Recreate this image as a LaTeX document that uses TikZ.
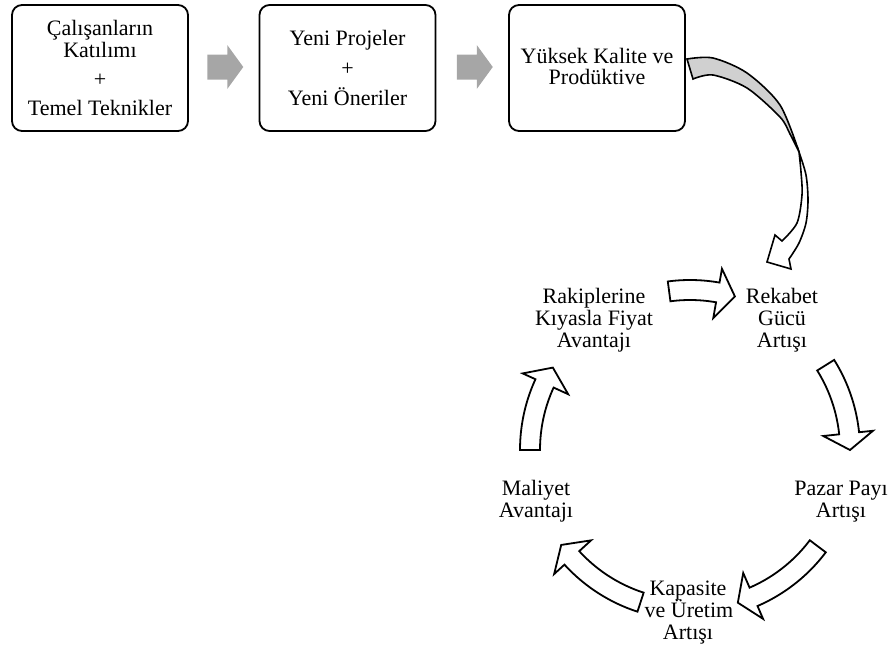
\documentclass[tikz,border=0pt]{standalone}
\usepackage{fontspec}
\setmainfont{Liberation Serif}
\usetikzlibrary{calc}
\definecolor{arrowgray}{RGB}{166,166,166}
\definecolor{bandgray}{RGB}{208,208,208}
\begin{document}
\begin{tikzpicture}[x=1pt,y=-1pt,
  box/.style={draw=black, line width=1.8pt, rounded corners=10pt,
    minimum width=176pt, minimum height=126pt, inner sep=0pt, fill=white},
  txt/.style={anchor=base, inner sep=0pt, font=\fontsize{22}{22}\selectfont},
  blockarrow/.style={draw=black, line width=1.8pt, fill=white, line join=miter},
  ribbon/.style={draw=black, line width=1.6pt, line join=miter},
  flowarrow/.style={fill=arrowgray}]
\useasboundingbox (0,0) rectangle (892,648);

% top row of boxes
\node[box] (b1) at (100,68) {};
\node[box] (b2) at (347.5,68) {};
\node[box] (b3) at (597,68) {};

\node[txt] (t11) at (100,35) {Çalışanların};
\node[txt] (t12) at (100,57) {Katılımı};
\node[txt] (t13) at (100,86) {+};
\node[txt] (t14) at (100,115) {Temel Teknikler};

\node[txt] (t21) at (347.5,45) {Yeni Projeler};
\node[txt] (t22) at (347.5,75) {+};
\node[txt] (t23) at (347.5,105) {Yeni Öneriler};

\node[txt] (t31) at (597,63) {Yüksek Kalite ve};
\node[txt] (t32) at (597,84) {Prodüktive};

% gray arrows between the boxes
\coordinate (g1) at ($(b1.east)!0.5!(b2.west)+(1.5,-1)$);
\coordinate (g2) at ($(b2.east)!0.5!(b3.west)+(2.5,-1)$);
\foreach \g in {g1,g2}{
  \fill[flowarrow, shift={(\g)}] (-18,-12.5) -- (2,-12.5) -- (2,-22) -- (18,0)
     -- (2,22) -- (2,12.5) -- (-18,12.5) -- cycle;
}

% twisted ribbon arrow leaving the last box
\filldraw[ribbon, fill=bandgray]
  plot[smooth] coordinates {(687,59) (713,58) (747,73) (780,105) (799,152)}
  -- plot[smooth] coordinates {(799,152) (790,134) (780,117) (747,88) (713,75) (693,79)}
  -- cycle;
\filldraw[ribbon, fill=white]
  plot[smooth] coordinates {(799,152) (806,175) (808,200) (806,223) (799,243) (789,259)}
  -- (791,269) -- (767,262) -- (775,235) -- (782,241)
  -- plot[smooth] coordinates {(782,241) (797,223) (802,195) (801,172) (799,152)}
  -- cycle;

% cycle of block arrows
\coordinate (cyc) at (690,450);
\newcommand\cycarrow[3]{%
  \draw[blockarrow] plot[domain=#1:#2, samples=30] (\x:170)
    -- (#2:184) -- (#3:160) -- (#2:134) -- (#2:150)
    -- plot[domain=#2:#1, samples=30] (\x:150) -- cycle;}
\begin{scope}[shift={(cyc)}]
  \cycarrow{-97.5}{-80}{-73.7}
  \cycarrow{-32}{-6}{0}
  \cycarrow{37}{66.6}{72.6}
  \cycarrow{108}{137.6}{143.6}
  \cycarrow{180}{204.6}{211}
\end{scope}

% cycle labels
\node[txt] (r1) at (782,303) {Rekabet};
\node[txt] (r2) at (782,325) {Gücü};
\node[txt] (r3) at (782,347) {Artışı};

\node[txt] (p1) at (841,495) {Pazar Payı};
\node[txt] (p2) at (841,517) {Artışı};

\node[txt] (k1) at (688,595) {Kapasite};
\node[txt] (k2) at (689,617) {ve Üretim};
\node[txt] (k3) at (688,639) {Artışı};

\node[txt] (m1) at (536,495) {Maliyet};
\node[txt] (m2) at (536,517) {Avantajı};

\node[txt] (f1) at (594,303) {Rakiplerine};
\node[txt] (f2) at (594,325) {Kıyasla Fiyat};
\node[txt] (f3) at (594,347) {Avantajı};
\end{tikzpicture}
\end{document}
